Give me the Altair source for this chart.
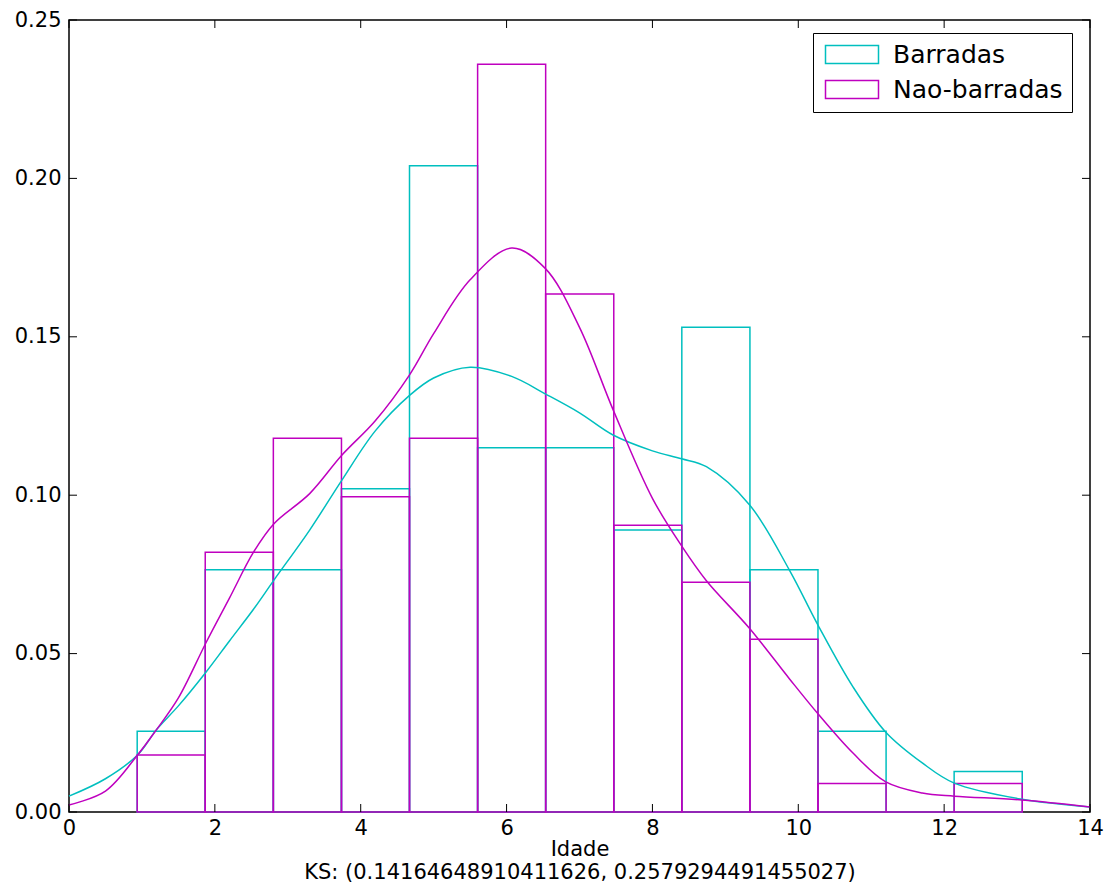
import altair as alt
import pandas as pd

series_names = ["Barradas", "Nao-barradas"]
series_colors = ["#00BFBF", "#BF00BF"]

bin_edges = [0.935, 1.868, 2.802, 3.736, 4.669, 5.603, 6.536, 7.470,
             8.403, 9.337, 10.270, 11.204, 12.137, 13.071]
barradas_density = [0.0255, 0.0765, 0.0765, 0.102, 0.204, 0.115, 0.115,
                    0.089, 0.153, 0.0765, 0.0255, 0.0, 0.0128]
naobarradas_density = [0.018, 0.082, 0.118, 0.0995, 0.118, 0.236, 0.1635,
                       0.0905, 0.0725, 0.0545, 0.009, 0.0, 0.009]

kde_x = [0.0, 0.5, 0.94, 1.2, 1.5, 1.88, 2.2, 2.53, 2.81, 3.3, 3.74, 4.2,
         4.67, 5.0, 5.5, 6.07, 6.53, 7.0, 7.46, 8.0, 8.4, 8.74, 9.33, 9.88,
         10.27, 10.75, 11.2, 11.7, 12.14, 13.07, 14.0]
barradas_kde = [0.005, 0.0105, 0.018, 0.026, 0.0335, 0.0442, 0.054, 0.064,
                0.0732, 0.089, 0.1047, 0.1203, 0.1315, 0.137, 0.1404, 0.1375,
                0.132, 0.126, 0.119, 0.114, 0.1115, 0.109, 0.097, 0.0763,
                0.059, 0.0395, 0.0252, 0.0155, 0.0091, 0.004, 0.0016]
naobarradas_kde = [0.0022, 0.0066, 0.018, 0.026, 0.036, 0.0535, 0.0675,
                   0.082, 0.091, 0.1005, 0.1126, 0.1235, 0.138, 0.151, 0.168,
                   0.178, 0.1716, 0.153, 0.127, 0.099, 0.084, 0.073, 0.058,
                   0.042, 0.031, 0.0186, 0.0095, 0.006, 0.005, 0.0038, 0.0016]

x_ticks = [0, 2, 4, 6, 8, 10, 12, 14]
y_ticks = [0.0, 0.05, 0.10, 0.15, 0.20, 0.25]
x_title = ["Idade", "KS: (0.14164648910411626, 0.2579294491455027)"]

W, H = 1021, 792
FONT = "DejaVu Sans"

rows = []
for name, dens in zip(series_names, [barradas_density, naobarradas_density]):
    for i, d in enumerate(dens):
        rows.append({"series": name, "x0": bin_edges[i], "x1": bin_edges[i + 1], "d": d})
bars_df = pd.DataFrame(rows)

krows = []
for name, ys in zip(series_names, [barradas_kde, naobarradas_kde]):
    for xv, yv in zip(kde_x, ys):
        krows.append({"series": name, "x": xv, "y": yv})
kde_df = pd.DataFrame(krows)

xscale = alt.Scale(domain=[0, 14], nice=False, zero=False)
yscale = alt.Scale(domain=[0, 0.25], nice=False)
cscale = alt.Scale(domain=series_names, range=series_colors)

xaxis = alt.Axis(title=x_title, values=x_ticks, format="d", ticks=False,
                 domain=False, grid=False, labelFlush=False,
                 labelPadding=5, titlePadding=0)
yaxis = alt.Axis(title=None, values=y_ticks, format=".2f", ticks=False,
                 domain=False, grid=False, labelFlush=False, labelPadding=8)

rect_path = "M-1,-1L4.889,-1L4.889,1L-1,1Z"

bars = alt.Chart(bars_df).mark_bar(filled=False, strokeWidth=1.5).encode(
    x=alt.X("x0:Q", scale=xscale, axis=xaxis),
    x2="x1:Q",
    y=alt.Y("d:Q", scale=yscale, axis=yaxis),
    y2=alt.datum(0),
    stroke=alt.Stroke("series:N", scale=cscale,
                      legend=alt.Legend(title=None, orient="none", legendX=744, legendY=13,
                                        strokeColor="black", fillColor="white",
                                        padding=9, cornerRadius=0,
                                        labelFontSize=25, labelFont=FONT, labelColor="black",
                                        labelLimit=500,
                                        symbolType=rect_path, symbolSize=324,
                                        symbolStrokeWidth=1.5, rowPadding=9,
                                        labelOffset=46)),
    order=alt.Order("series:N"),
)

lines = alt.Chart(kde_df).mark_line(interpolate="catmull-rom", strokeWidth=1.5).encode(
    x=alt.X("x:Q", scale=xscale, axis=xaxis),
    y=alt.Y("y:Q", scale=yscale, axis=yaxis),
    color=alt.Color("series:N", scale=cscale, legend=None),
)

xt_df = pd.DataFrame({"t": x_ticks})
yt_df = pd.DataFrame({"t": y_ticks})
TL = 8

xt_bottom = alt.Chart(xt_df).mark_rule(color="black", strokeWidth=1).encode(
    x=alt.X("t:Q", scale=xscale, axis=xaxis), y=alt.value(H), y2=alt.value(H - TL))
xt_top = alt.Chart(xt_df).mark_rule(color="black", strokeWidth=1).encode(
    x=alt.X("t:Q", scale=xscale, axis=xaxis), y=alt.value(0), y2=alt.value(TL))
yt_left = alt.Chart(yt_df).mark_rule(color="black", strokeWidth=1).encode(
    y=alt.Y("t:Q", scale=yscale, axis=yaxis), x=alt.value(0), x2=alt.value(TL))
yt_right = alt.Chart(yt_df).mark_rule(color="black", strokeWidth=1).encode(
    y=alt.Y("t:Q", scale=yscale, axis=yaxis), x=alt.value(W), x2=alt.value(W - TL))

chart = alt.layer(bars, lines, xt_bottom, xt_top, yt_left, yt_right).properties(
    width=W, height=H,
    padding={"left": 69, "top": 20, "right": 15, "bottom": 72},
    autosize=alt.AutoSizeParams(type="none"),
    background="white",
).configure_view(
    stroke="black", strokeWidth=1.5
).configure_axis(
    labelFont=FONT, labelFontSize=21, labelColor="black",
    titleFont=FONT, titleFontSize=21, titleColor="black", titleFontWeight="normal",
    titleLineHeight=23,
)

chart.save("out.html", embed_options={"renderer": "svg", "actions": False})
